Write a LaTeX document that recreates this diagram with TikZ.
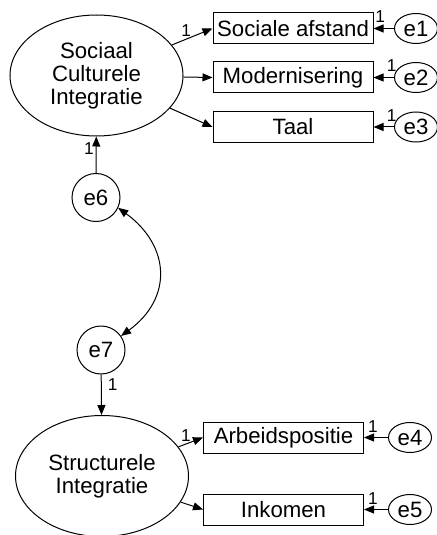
\documentclass[tikz,border=0pt]{standalone}
\usepackage{fontspec}
\setmainfont{Liberation Sans}
\usetikzlibrary{arrows.meta,shapes.geometric}

\begin{document}
\begin{tikzpicture}[x=0.5pt,y=-0.5pt,line width=0.5pt,
  >={Triangle[length=5pt,width=4pt]},
  latent/.style={draw,ellipse,minimum width=86.5pt,minimum height=60.5pt,inner sep=0pt,
    align=center,font=\fontsize{11.1}{11.6}\selectfont},
  observed/.style={draw,rectangle,minimum width=80pt,minimum height=15.5pt,inner sep=0pt,
    font=\fontsize{11.1}{13}\selectfont},
  err/.style={draw,ellipse,minimum width=21.5pt,minimum height=15pt,inner sep=0pt,
    font=\fontsize{11.1}{13}\selectfont},
  disturb/.style={draw,circle,minimum size=24pt,inner sep=0pt,
    font=\fontsize{11.1}{13}\selectfont},
  weight/.style={font=\fontsize{8.6}{9}\selectfont,inner sep=1pt}]
\useasboundingbox (0,0) rectangle (437,535);
%----------sociaal culturele integratie---------------
\node[latent] (sci) at (96.5,75.5) {Sociaal\\Culturele\\Integratie};
\node[observed] (soc) at (293,28.5) {Sociale afstand};
\node[observed] (mod) at (293,77.5) {Modernisering};
\node[observed] (taal) at (293,127) {Taal};
\node[err] (e1) at (416,28.5) {e1};
\node[err] (e2) at (416,77.5) {e2};
\node[err] (e3) at (416,127) {e3};
%----------structurele integratie---------------------
\node[latent] (si) at (102,476) {Structurele\\Integratie};
\node[observed] (arb) at (283.5,437.5) {Arbeidspositie};
\node[observed] (ink) at (283.5,509.5) {Inkomen};
\node[err] (e4) at (410,437.5) {e4};
\node[err] (e5) at (410,509.5) {e5};
%----------residuals----------------------------------
\node[disturb] (e6) at (96,197.5) {e6};
\node[disturb] (e7) at (101,350) {e7};
%----------paths--------------------------------------
\draw[->] (sci) -- (soc.west) node[weight,pos=0.35,above] {1};
\draw[->] (sci) -- (mod.west);
\draw[->] (sci) -- (taal.west);
\draw[->] (e1) -- (soc) node[weight,pos=0.67,above=1.5pt] {1};
\draw[->] (e2) -- (mod) node[weight,pos=0.12,above=1.5pt] {1};
\draw[->] (e3) -- (taal) node[weight,pos=0.12,above=1.5pt] {1};
\draw[->] (si) -- (arb.west) node[weight,pos=0.3,above] {1};
\draw[->] (si) -- (ink.west);
\draw[->] (e4) -- (arb) node[weight,pos=0.63,above=1.5pt] {1};
\draw[->] (e5) -- (ink) node[weight,pos=0.63,above=1.5pt] {1};
\draw[->] (e6) -- (sci) node[weight,pos=0.68,left] {1};
\draw[->] (e7) -- (si) node[weight,pos=0.26,right=2pt] {1};
%----------covariance---------------------------------
\draw[<->] (e6.-25) .. controls +(52,38) and +(52,-38) .. (e7.35);
\end{tikzpicture}
\end{document}
